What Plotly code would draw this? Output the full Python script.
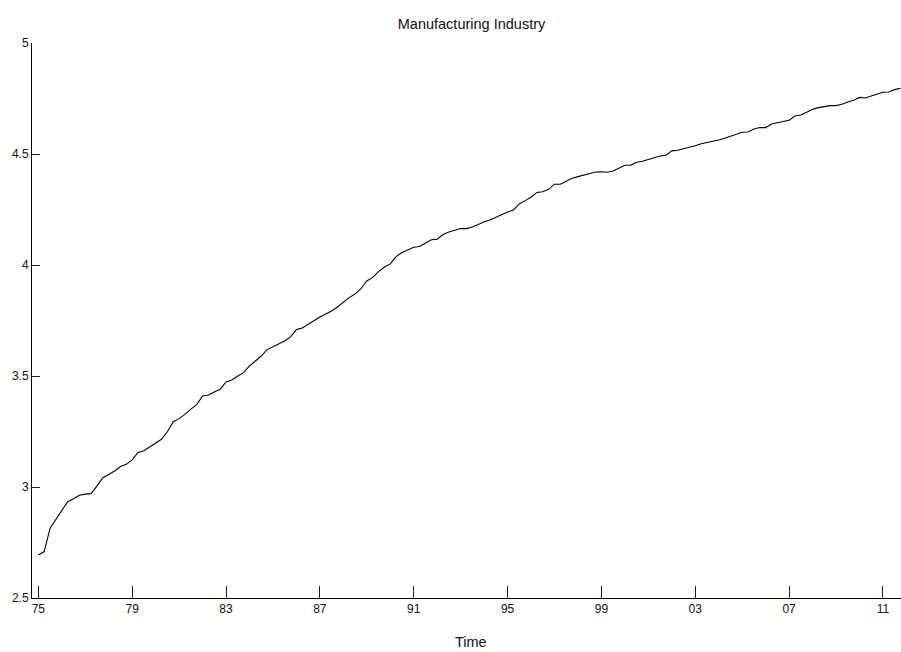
import plotly.graph_objects as go

# Quarterly series, 1975Q1 .. 2011Q4
start_year = 1975
values = [
    2.694, 2.709, 2.814, 2.854, 2.894, 2.934, 2.947, 2.963, 2.968, 2.970,
    3.005, 3.042, 3.056, 3.072, 3.092, 3.102, 3.122, 3.156, 3.163, 3.180,
    3.199, 3.215, 3.249, 3.294, 3.308, 3.327, 3.351, 3.371, 3.410, 3.414,
    3.428, 3.440, 3.473, 3.482, 3.500, 3.515, 3.545, 3.569, 3.590, 3.619,
    3.631, 3.646, 3.658, 3.676, 3.709, 3.716, 3.734, 3.752, 3.766, 3.779,
    3.793, 3.811, 3.832, 3.853, 3.869, 3.893, 3.928, 3.944, 3.970, 3.991,
    4.005, 4.038, 4.056, 4.069, 4.080, 4.083, 4.098, 4.114, 4.116, 4.137,
    4.149, 4.158, 4.164, 4.164, 4.171, 4.182, 4.195, 4.203, 4.216, 4.228,
    4.239, 4.248, 4.275, 4.290, 4.305, 4.327, 4.330, 4.341, 4.364, 4.364,
    4.376, 4.391, 4.398, 4.405, 4.414, 4.419, 4.420, 4.418, 4.423, 4.435,
    4.449, 4.450, 4.463, 4.467, 4.476, 4.485, 4.491, 4.495, 4.514, 4.517,
    4.523, 4.532, 4.537, 4.546, 4.551, 4.559, 4.563, 4.571, 4.580, 4.589,
    4.598, 4.599, 4.613, 4.619, 4.619, 4.635, 4.641, 4.646, 4.652, 4.671,
    4.676, 4.688, 4.701, 4.709, 4.713, 4.718, 4.718, 4.724, 4.734, 4.742,
    4.755, 4.752, 4.761, 4.769, 4.778, 4.779, 4.790, 4.796,
]
time = [start_year + q / 4 for q in range(len(values))]

x_tickvals = [1975, 1979, 1983, 1987, 1991, 1995, 1999, 2003, 2007, 2011]
x_ticktext = ["75", "79", "83", "87", "91", "95", "99", "03", "07", "11"]
y_tickvals = [2.5, 3, 3.5, 4, 4.5, 5]
y_ticktext = ["2.5", "3", "3.5", "4", "4.5", "5"]

FONT = "Liberation Sans, Arial, Helvetica, sans-serif"

fig = go.Figure()
fig.add_trace(go.Scatter(x=time, y=values, mode="lines",
                         line=dict(color="black", width=1.1),
                         showlegend=False, hoverinfo="skip"))

fig.update_layout(
    width=901, height=652,
    margin=dict(l=32, r=0, t=43, b=54, pad=0),
    paper_bgcolor="white", plot_bgcolor="white",
    font=dict(family=FONT, color="#111", size=12),
    title=dict(text="Manufacturing Industry", x=471.5 / 901, xref="container",
               xanchor="center", y=1 - 24 / 652, yref="container",
               yanchor="middle", font=dict(family=FONT, size=14.5, color="#111")),
    showlegend=False,
)
fig.update_xaxes(
    range=[1974.73, 2011.77], showgrid=False, zeroline=False,
    showline=True, linecolor="black", linewidth=1,
    ticks="inside", ticklen=12, tickwidth=1, tickcolor="#222",
    tickvals=x_tickvals, ticktext=x_ticktext,
    tickfont=dict(family=FONT, size=12, color="#111"),
)
fig.update_yaxes(
    range=[2.5, 5], showgrid=False, zeroline=False,
    showline=True, linecolor="black", linewidth=1,
    ticks="inside", ticklen=8, tickwidth=1, tickcolor="#222",
    tickvals=y_tickvals, ticktext=y_ticktext,
    tickfont=dict(family=FONT, size=12, color="#111"),
)
fig.add_annotation(text="Time", xref="paper", yref="paper",
                   x=(471.2 - 32) / 869, y=0, yshift=-44,
                   xanchor="center", yanchor="middle", showarrow=False,
                   font=dict(family=FONT, size=14.5, color="#111"))

fig.write_html("out.html")
